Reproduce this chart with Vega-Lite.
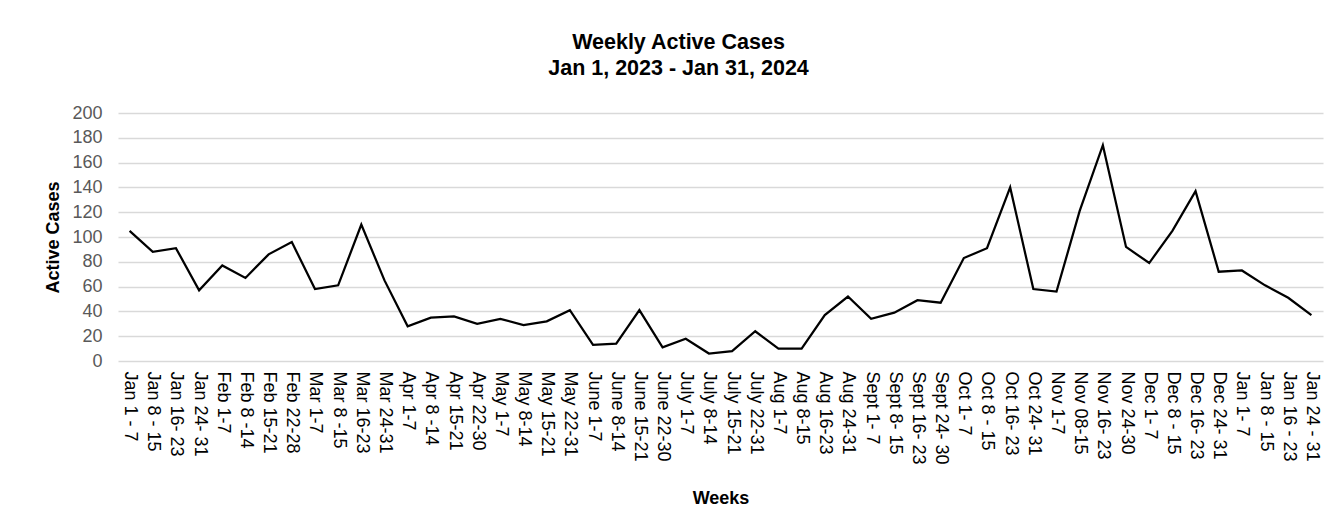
{
  "$schema": "https://vega.github.io/schema/vega-lite/v6.json",
  "autosize": {"type": "none"},
  "padding": {"left": 118, "top": 113, "right": 20, "bottom": 168},
  "width": 1205,
  "height": 248,
  "background": "#ffffff",
  "title": {
    "text": ["Weekly Active Cases", "Jan 1, 2023 - Jan 31, 2024"],
    "font": "Liberation Sans",
    "fontSize": 21.5,
    "fontWeight": "bold",
    "color": "#000000",
    "lineHeight": 26,
    "anchor": "middle",
    "dx": -42,
    "offset": 25
  },
  "config": {
    "view": {"stroke": null},
    "font": "Liberation Sans"
  },
  "data": {
    "values": [
      {"week": "Jan 1 - 7|2023", "cases": 105},
      {"week": "Jan 8 - 15|2023", "cases": 88},
      {"week": "Jan 16- 23|2023", "cases": 91},
      {"week": "Jan 24- 31|2023", "cases": 57},
      {"week": "Feb 1-7|2023", "cases": 77},
      {"week": "Feb 8 -14|2023", "cases": 67},
      {"week": "Feb 15-21|2023", "cases": 86},
      {"week": "Feb 22-28|2023", "cases": 96},
      {"week": "Mar 1-7|2023", "cases": 58},
      {"week": "Mar 8 -15|2023", "cases": 61},
      {"week": "Mar 16-23|2023", "cases": 110},
      {"week": "Mar 24-31|2023", "cases": 65},
      {"week": "Apr 1-7|2023", "cases": 28},
      {"week": "Apr 8 -14|2023", "cases": 35},
      {"week": "Apr 15-21|2023", "cases": 36},
      {"week": "Apr 22-30|2023", "cases": 30},
      {"week": "May 1-7|2023", "cases": 34},
      {"week": "May 8-14|2023", "cases": 29},
      {"week": "May 15-21|2023", "cases": 32},
      {"week": "May 22-31|2023", "cases": 41},
      {"week": "June 1-7|2023", "cases": 13},
      {"week": "June 8-14|2023", "cases": 14},
      {"week": "June 15-21|2023", "cases": 41},
      {"week": "June 22-30|2023", "cases": 11},
      {"week": "July 1-7|2023", "cases": 18},
      {"week": "July 8-14|2023", "cases": 6},
      {"week": "July 15-21|2023", "cases": 8},
      {"week": "July 22-31|2023", "cases": 24},
      {"week": "Aug 1-7|2023", "cases": 10},
      {"week": "Aug 8-15|2023", "cases": 10},
      {"week": "Aug 16-23|2023", "cases": 37},
      {"week": "Aug 24-31|2023", "cases": 52},
      {"week": "Sept 1- 7|2023", "cases": 34},
      {"week": "Sept 8-  15|2023", "cases": 39},
      {"week": "Sept 16-  23|2023", "cases": 49},
      {"week": "Sept 24- 30|2023", "cases": 47},
      {"week": "Oct 1- 7|2023", "cases": 83},
      {"week": "Oct 8 - 15|2023", "cases": 91},
      {"week": "Oct 16- 23|2023", "cases": 140},
      {"week": "Oct 24- 31|2023", "cases": 58},
      {"week": "Nov 1-7|2023", "cases": 56},
      {"week": "Nov 08-15|2023", "cases": 121},
      {"week": "Nov 16- 23|2023", "cases": 174},
      {"week": "Nov 24-30|2023", "cases": 92},
      {"week": "Dec 1- 7|2023", "cases": 79},
      {"week": "Dec 8 - 15|2023", "cases": 105},
      {"week": "Dec 16- 23|2023", "cases": 137},
      {"week": "Dec 24- 31|2023", "cases": 72},
      {"week": "Jan 1- 7|2024", "cases": 73},
      {"week": "Jan 8 - 15|2024", "cases": 61},
      {"week": "Jan 16 - 23|2024", "cases": 51},
      {"week": "Jan 24 - 31|2024", "cases": 37}
    ]
  },
  "mark": {"type": "line", "color": "#000000", "strokeWidth": 2.25, "strokeJoin": "miter"},
  "encoding": {
    "x": {
      "field": "week",
      "type": "ordinal",
      "sort": null,
      "scale": {"type": "point", "padding": 0.5},
      "axis": {
        "title": "Weeks",
        "titleFont": "Liberation Sans",
        "titleFontSize": 18,
        "titleFontWeight": "bold",
        "titleColor": "#000000",
        "titlePadding": 20,
        "labelExpr": "split(datum.label, '|')[0]",
        "labelAngle": 90,
        "labelFont": "Liberation Sans",
        "labelFontSize": 18,
        "labelColor": "#000000",
        "labelPadding": 10,
        "labelOverlap": false,
        "labelBound": false,
        "ticks": false,
        "domain": false,
        "grid": false
      }
    },
    "y": {
      "field": "cases",
      "type": "quantitative",
      "scale": {"domain": [0, 200], "nice": false},
      "axis": {
        "title": "Active Cases",
        "titleFont": "Liberation Sans",
        "titleFontSize": 18,
        "titleFontWeight": "bold",
        "titleColor": "#000000",
        "titlePadding": 9,
        "values": [0, 20, 40, 60, 80, 100, 120, 140, 160, 180, 200],
        "labelFont": "Liberation Sans",
        "labelFontSize": 18,
        "labelColor": "#595959",
        "labelPadding": 16,
        "ticks": false,
        "domain": false,
        "grid": true,
        "gridColor": "#d9d9d9",
        "gridWidth": 1.3
      }
    }
  }
}
